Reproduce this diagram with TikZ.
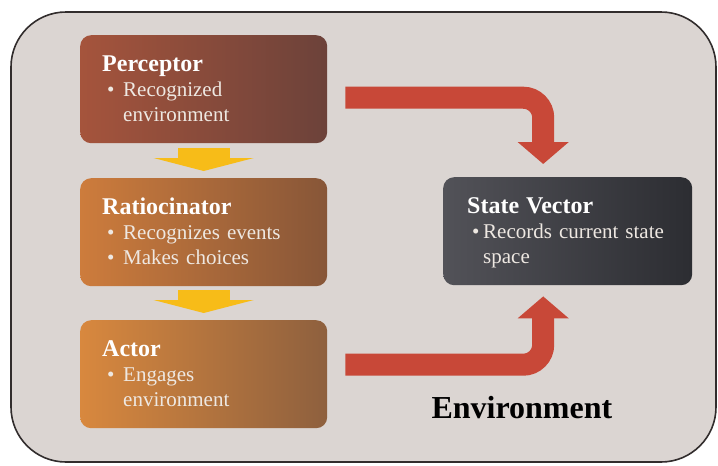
\documentclass[tikz,border=0pt]{standalone}
\usepackage{fontspec}
\newfontfamily\lsf{Liberation Serif}
\usetikzlibrary{arrows.meta}

\definecolor{envfill}{RGB}{219,213,210}
\definecolor{envline}{RGB}{50,45,45}
\definecolor{percL}{RGB}{165,84,60}
\definecolor{percR}{RGB}{108,66,58}
\definecolor{ratL}{RGB}{205,124,60}
\definecolor{ratR}{RGB}{135,86,56}
\definecolor{actL}{RGB}{216,136,62}
\definecolor{actR}{RGB}{142,96,62}
\definecolor{svL}{RGB}{82,82,88}
\definecolor{svR}{RGB}{44,45,50}
\definecolor{flowred}{RGB}{200,72,56}
\definecolor{flowyellow}{RGB}{247,188,24}
\definecolor{bodytext}{RGB}{238,232,226}

\newcommand\ttl[1]{{\lsf\fontsize{24}{25}\selectfont\bfseries\color{white}#1}}

\tikzset{
  stagebox/.style={rounded corners=11pt, minimum height=108pt, inner ysep=0pt,
    inner xsep=22pt, text width=203pt, anchor=north west, align=left,
    text=bodytext, font=\lsf\fontsize{21}{25}\selectfont,
    execute at begin node=\vspace*{-4pt}},
  redflow/.style={draw=flowred, line width=22pt, rounded corners=20pt,
    -{Triangle[length=22pt,width=50pt]}},
  yellowflow/.style={draw=flowyellow, line width=52pt,
    -{Triangle[length=13pt,width=100pt]}},
}

\begin{document}
\begin{tikzpicture}[x=1pt,y=-1pt]
  \useasboundingbox (0,0) rectangle (718,466);
  \fill[white] (0,0) rectangle (718,466);

  % environment frame
  \draw[envline, fill=envfill, line width=1.6pt, rounded corners=55pt]
    (11,12) rectangle (716,462);

  % the three stages
  \node[stagebox, left color=percL, right color=percR] (perc) at (80,35) {%
    \begin{tabular}{@{}p{21pt}@{}l@{}}
      \multicolumn{2}{@{}l@{}}{\ttl{Perceptor}}\\
      \hspace*{5pt}\textbullet & Recognized\\
      & environment
    \end{tabular}};
  \node[stagebox, left color=ratL, right color=ratR] (ratio) at (80,178) {%
    \begin{tabular}{@{}p{21pt}@{}l@{}}
      \multicolumn{2}{@{}l@{}}{\ttl{Ratiocinator}}\\
      \hspace*{5pt}\textbullet & Recognizes events\\
      \hspace*{5pt}\textbullet & Makes choices
    \end{tabular}};
  \node[stagebox, left color=actL, right color=actR] (actor) at (80,320) {%
    \begin{tabular}{@{}p{21pt}@{}l@{}}
      \multicolumn{2}{@{}l@{}}{\ttl{Actor}}\\
      \hspace*{5pt}\textbullet & Engages\\
      & environment
    \end{tabular}};

  % state vector
  \node[stagebox, inner xsep=24pt, text width=201pt, left color=svL, right color=svR]
    (sv) at (443,177) {%
    \begin{tabular}{@{}p{16pt}@{}l@{}}
      \multicolumn{2}{@{}l@{}}{\ttl{State Vector}}\\
      \hspace*{5pt}\textbullet & Records current state\\
      & space
    \end{tabular}};

  \node[anchor=base west, font=\lsf\fontsize{32}{34}\selectfont\bfseries, text=black]
    (envlabel) at (428,418) {Environment};

  % flow between the stages
  \draw[yellowflow] ([yshift=-5pt]perc.south) -- ([yshift=7pt]ratio.north);
  \draw[yellowflow] ([yshift=-4pt]ratio.south) -- ([yshift=7pt]actor.north);

  % flow into the state vector
  \coordinate (ps) at ([xshift=18pt,yshift=-8.5pt]perc.east);
  \coordinate (pe) at ([xshift=-24.5pt,yshift=13pt]sv.north);
  \draw[redflow] (ps) -- (ps -| pe) -- (pe);
  \coordinate (as) at ([xshift=18pt,yshift=9.5pt]actor.east);
  \coordinate (ae) at ([xshift=-24.5pt,yshift=-11pt]sv.south);
  \draw[redflow] (as) -- (as -| ae) -- (ae);
\end{tikzpicture}
\end{document}
